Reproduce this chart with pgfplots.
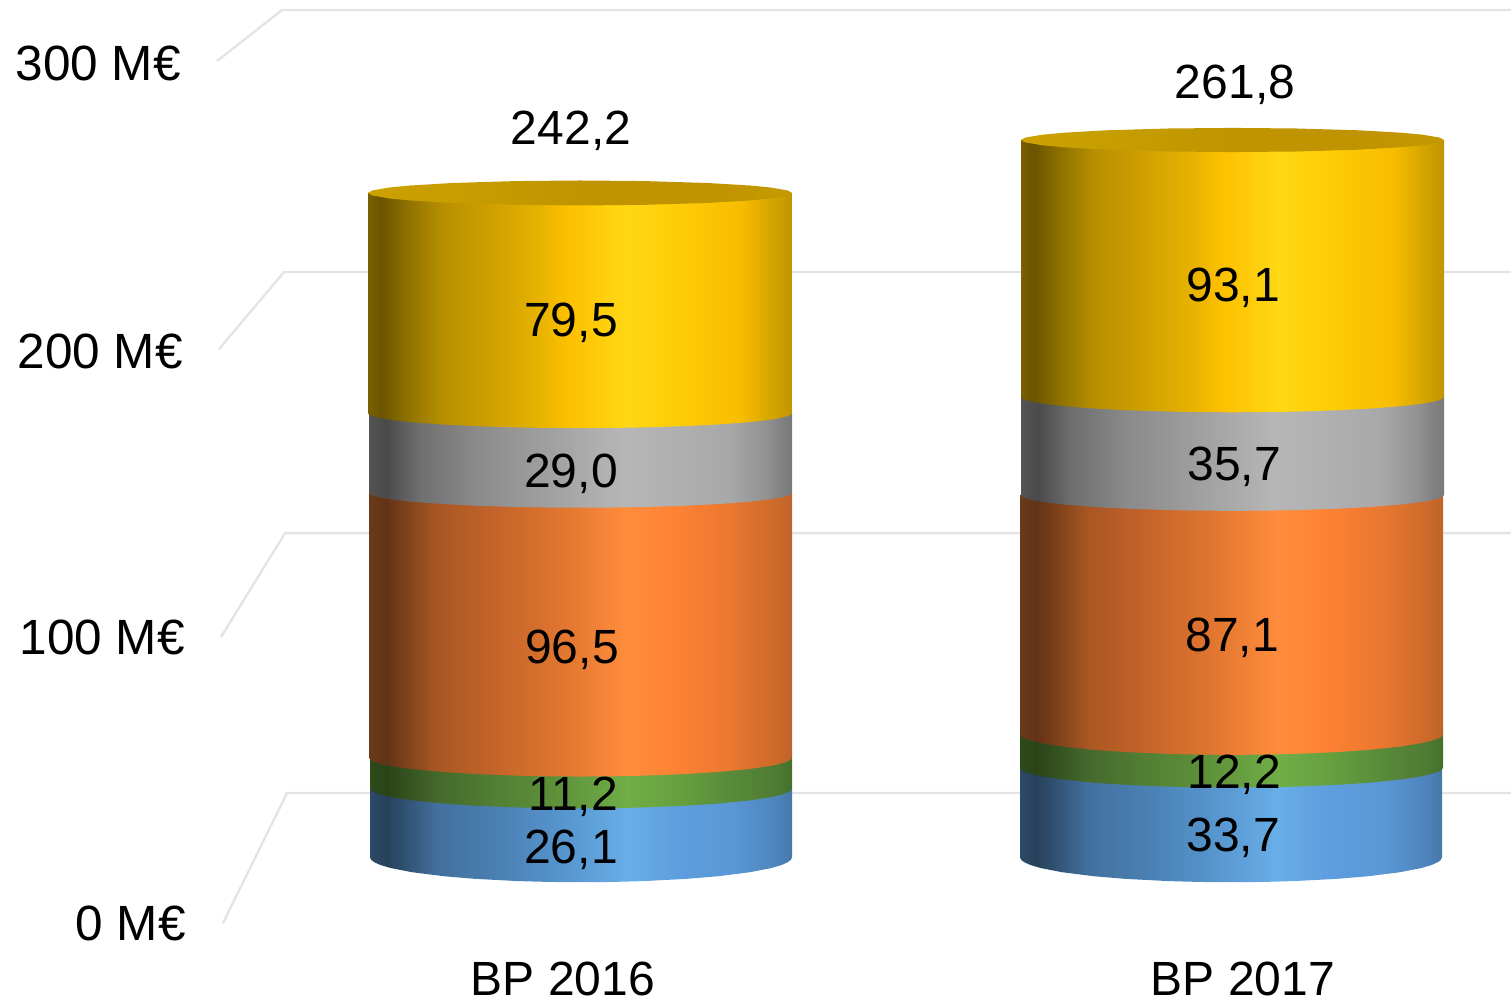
\documentclass[border=0pt]{standalone}
\usepackage{fontspec}
\setmainfont{Liberation Sans}
\usepackage{pgfplots}
\usepackage{pgfplotstable}
\pgfplotsset{compat=1.18}

\definecolor{wallline}{HTML}{E4E4E6}

% side shadings of the cylinders: the path spans 25bp..75bp
\pgfdeclarehorizontalshading{cylY}{100bp}{rgb(0bp)=(.48,.376,0); rgb(25bp)=(.48,.376,0); rgb(26.5bp)=(.42,.33,0); rgb(29.5bp)=(.553,.439,0); rgb(33.5bp)=(.71,.557,0); rgb(39.5bp)=(.812,.627,0); rgb(45.5bp)=(.91,.706,0); rgb(48.5bp)=(.992,.753,0); rgb(55.5bp)=(1,.847,.078); rgb(61bp)=(1,.804,.027); rgb(69bp)=(.973,.737,0); rgb(73bp)=(.816,.635,0); rgb(75bp)=(.75,.584,0); rgb(100bp)=(.75,.584,0)}
\pgfdeclarehorizontalshading{cylG}{100bp}{rgb(0bp)=(.33,.33,.33); rgb(25bp)=(.33,.33,.33); rgb(27bp)=(.29,.29,.29); rgb(31bp)=(.435,.435,.435); rgb(37.5bp)=(.541,.541,.541); rgb(45bp)=(.616,.616,.616); rgb(55bp)=(.714,.714,.714); rgb(61bp)=(.69,.69,.69); rgb(67.5bp)=(.659,.659,.659); rgb(71.5bp)=(.58,.58,.58); rgb(75bp)=(.47,.47,.47); rgb(100bp)=(.47,.47,.47)}
\pgfdeclarehorizontalshading{cylO}{100bp}{rgb(0bp)=(.42,.227,.102); rgb(25bp)=(.42,.227,.102); rgb(27bp)=(.388,.2,.09); rgb(33bp)=(.66,.34,.135); rgb(40bp)=(.769,.392,.165); rgb(47.5bp)=(.878,.459,.184); rgb(55.5bp)=(1,.549,.235); rgb(61bp)=(1,.51,.204); rgb(68bp)=(.91,.467,.184); rgb(73bp)=(.8,.416,.165); rgb(75bp)=(.745,.39,.157); rgb(100bp)=(.745,.39,.157)}
\pgfdeclarehorizontalshading{cylV}{100bp}{rgb(0bp)=(.176,.29,.106); rgb(25bp)=(.176,.29,.106); rgb(27bp)=(.165,.267,.094); rgb(33bp)=(.27,.41,.175); rgb(40bp)=(.325,.502,.204); rgb(47.5bp)=(.373,.573,.231); rgb(55.5bp)=(.439,.682,.278); rgb(61bp)=(.404,.635,.247); rgb(68bp)=(.345,.54,.225); rgb(73bp)=(.31,.485,.2); rgb(75bp)=(.27,.44,.165); rgb(100bp)=(.27,.44,.165)}
\pgfdeclarehorizontalshading{cylB}{100bp}{rgb(0bp)=(.173,.29,.4); rgb(25bp)=(.173,.29,.4); rgb(27bp)=(.153,.255,.357); rgb(33bp)=(.26,.44,.62); rgb(40bp)=(.29,.502,.698); rgb(47.5bp)=(.337,.58,.8); rgb(55.5bp)=(.408,.682,.91); rgb(61bp)=(.373,.624,.875); rgb(68bp)=(.35,.59,.84); rgb(73bp)=(.31,.52,.74); rgb(75bp)=(.27,.47,.66); rgb(100bp)=(.27,.47,.66)}
\pgfdeclarehorizontalshading{cylC}{100bp}{rgb(0bp)=(.80,.63,0); rgb(25bp)=(.80,.63,0); rgb(35bp)=(.78,.62,0); rgb(50bp)=(.749,.58,0); rgb(67bp)=(.749,.58,0); rgb(75bp)=(.769,.604,0); rgb(100bp)=(.769,.604,0)}

% outline of one band: k=1 top corners, k=0 front arc of the lower edge
\pgfplotstableread{
t s k
-1 0 1
-1 0 0
-.995 .1 0
-.98 .199 0
-.95 .312 0
-.9 .436 0
-.8 .6 0
-.65 .76 0
-.5 .866 0
-.3 .954 0
-.15 .989 0
0 1 0
.15 .989 0
.3 .954 0
.5 .866 0
.65 .76 0
.8 .6 0
.9 .436 0
.95 .312 0
.98 .199 0
.995 .1 0
1 0 0
1 0 1
}\bandshape

% outline of the top ellipse
\pgfplotstableread{
t s
-1 0
-.98 .199
-.9 .436
-.8 .6
-.6 .8
-.3 .954
0 1
.3 .954
.6 .8
.8 .6
.9 .436
.98 .199
1 0
.98 -.199
.9 -.436
.8 -.6
.6 -.8
.3 -.954
0 -1
-.3 -.954
-.6 -.8
-.8 -.6
-.9 -.436
-.98 -.199
}\capshape

% {shading}{x left}{x right}{upper value}{lower value}{sag}
\newcommand{\band}[6]{%
  \addplot[shade, shading=#1, draw=none] table[
    x expr={#2+(#3-#2)*(\thisrow{t}+1)/2},
    y expr={\thisrow{k}*#4+(1-\thisrow{k})*(#5-#6*\thisrow{s})}
  ] {\bandshape};}
% {x left}{x right}{value}{half height}
\newcommand{\topcap}[4]{%
  \addplot[shade, shading=cylC, draw=none] table[
    x expr={#1+(#2-#1)*(\thisrow{t}+1)/2},
    y expr={#3-#4*\thisrow{s}}
  ] {\capshape};}

% labels of the bars: x, height on the value axis, text
\pgfplotstableread{
x y lab
571 266.7 242,2
571 196.7 79,5
571 141.7 29,0
572 77.6 96,5
573 24.0 11,2
571 4.7 26,1
1235 283.4 261,8
1233 209.5 93,1
1234 144.3 35,7
1232 82.0 87,1
1234 32.1 12,2
1233 9.1 33,7
}\barlabels

\begin{document}
\begin{tikzpicture}
\useasboundingbox (0,0) rectangle (1511pt,1001pt);

% wall, tick labels and categories
\begin{axis}[
    at={(0,0)}, anchor=south west,
    scale only axis, width=1511pt, height=1001pt,
    xmin=0, xmax=1511, ymin=-27.2, ymax=322,
    axis line style={draw=none},
    major tick length=0pt,
    xtick={563,1243},
    xticklabels={BP 2016,BP 2017},
    ytick={0,99.5,199.4,300},
    yticklabels={0 M€,100 M€\kern1pt,200 M€\kern3pt,300 M€\kern5pt},
    yticklabel style={anchor=east, inner sep=0pt, xshift=186pt, font=\fontsize{49.5}{60}\selectfont},
    xticklabel style={anchor=south, inner sep=0pt, yshift=5pt, font=\fontsize{48}{58}\selectfont},
    no markers
]
\addplot[wallline, line width=2.4pt] coordinates {(223,0) (287,45.35) (1511,45.35)};
\addplot[wallline, line width=2.4pt] coordinates {(221,99.8) (285,136) (1511,136)};
\addplot[wallline, line width=2.4pt] coordinates {(219,200.2) (284,227.1) (1511,227.1)};
\addplot[wallline, line width=2.4pt] coordinates {(217,300.7) (282,318.5) (1511,318.5)};
\end{axis}

% cylinders, in M€ on their own scale
\begin{axis}[
    at={(0,0)}, anchor=south west,
    scale only axis, width=1511pt, height=1001pt,
    xmin=0, xmax=1511, ymin=-51.37, ymax=313.3,
    hide axis, clip=false, no markers
]
% BP 2016: 26.1 11.2 96.5 29.0 79.5
\band{cylB}{370}{792}{26.1}{1}{9.1}
\band{cylV}{370}{792}{37.3}{26.1}{7.3}
\band{cylO}{369}{792}{133.8}{37.3}{6.9}
\band{cylG}{369}{792}{162.8}{133.8}{5.46}
\band{cylY}{368}{792}{243}{162.8}{5.46}
\topcap{368}{792}{243}{4.55}
% BP 2017: 33.7 12.2 87.1 35.7 93.1
\band{cylB}{1020}{1442}{33.7}{1}{9.1}
\band{cylV}{1020}{1443}{45.9}{33.7}{7.3}
\band{cylO}{1020}{1443}{133}{45.9}{7.6}
\band{cylG}{1021}{1444}{168.7}{133}{5.8}
\band{cylY}{1021}{1444}{262.3}{168.7}{5.6}
\topcap{1021}{1444}{262.3}{4.4}

\addplot[draw=none, point meta=explicit symbolic, nodes near coords,
    every node near coord/.append style={anchor=center, inner sep=0pt, text depth=0pt, font=\fontsize{48}{58}\selectfont}]
    table[x=x, y=y, meta=lab] {\barlabels};
\end{axis}
\end{tikzpicture}
\end{document}
